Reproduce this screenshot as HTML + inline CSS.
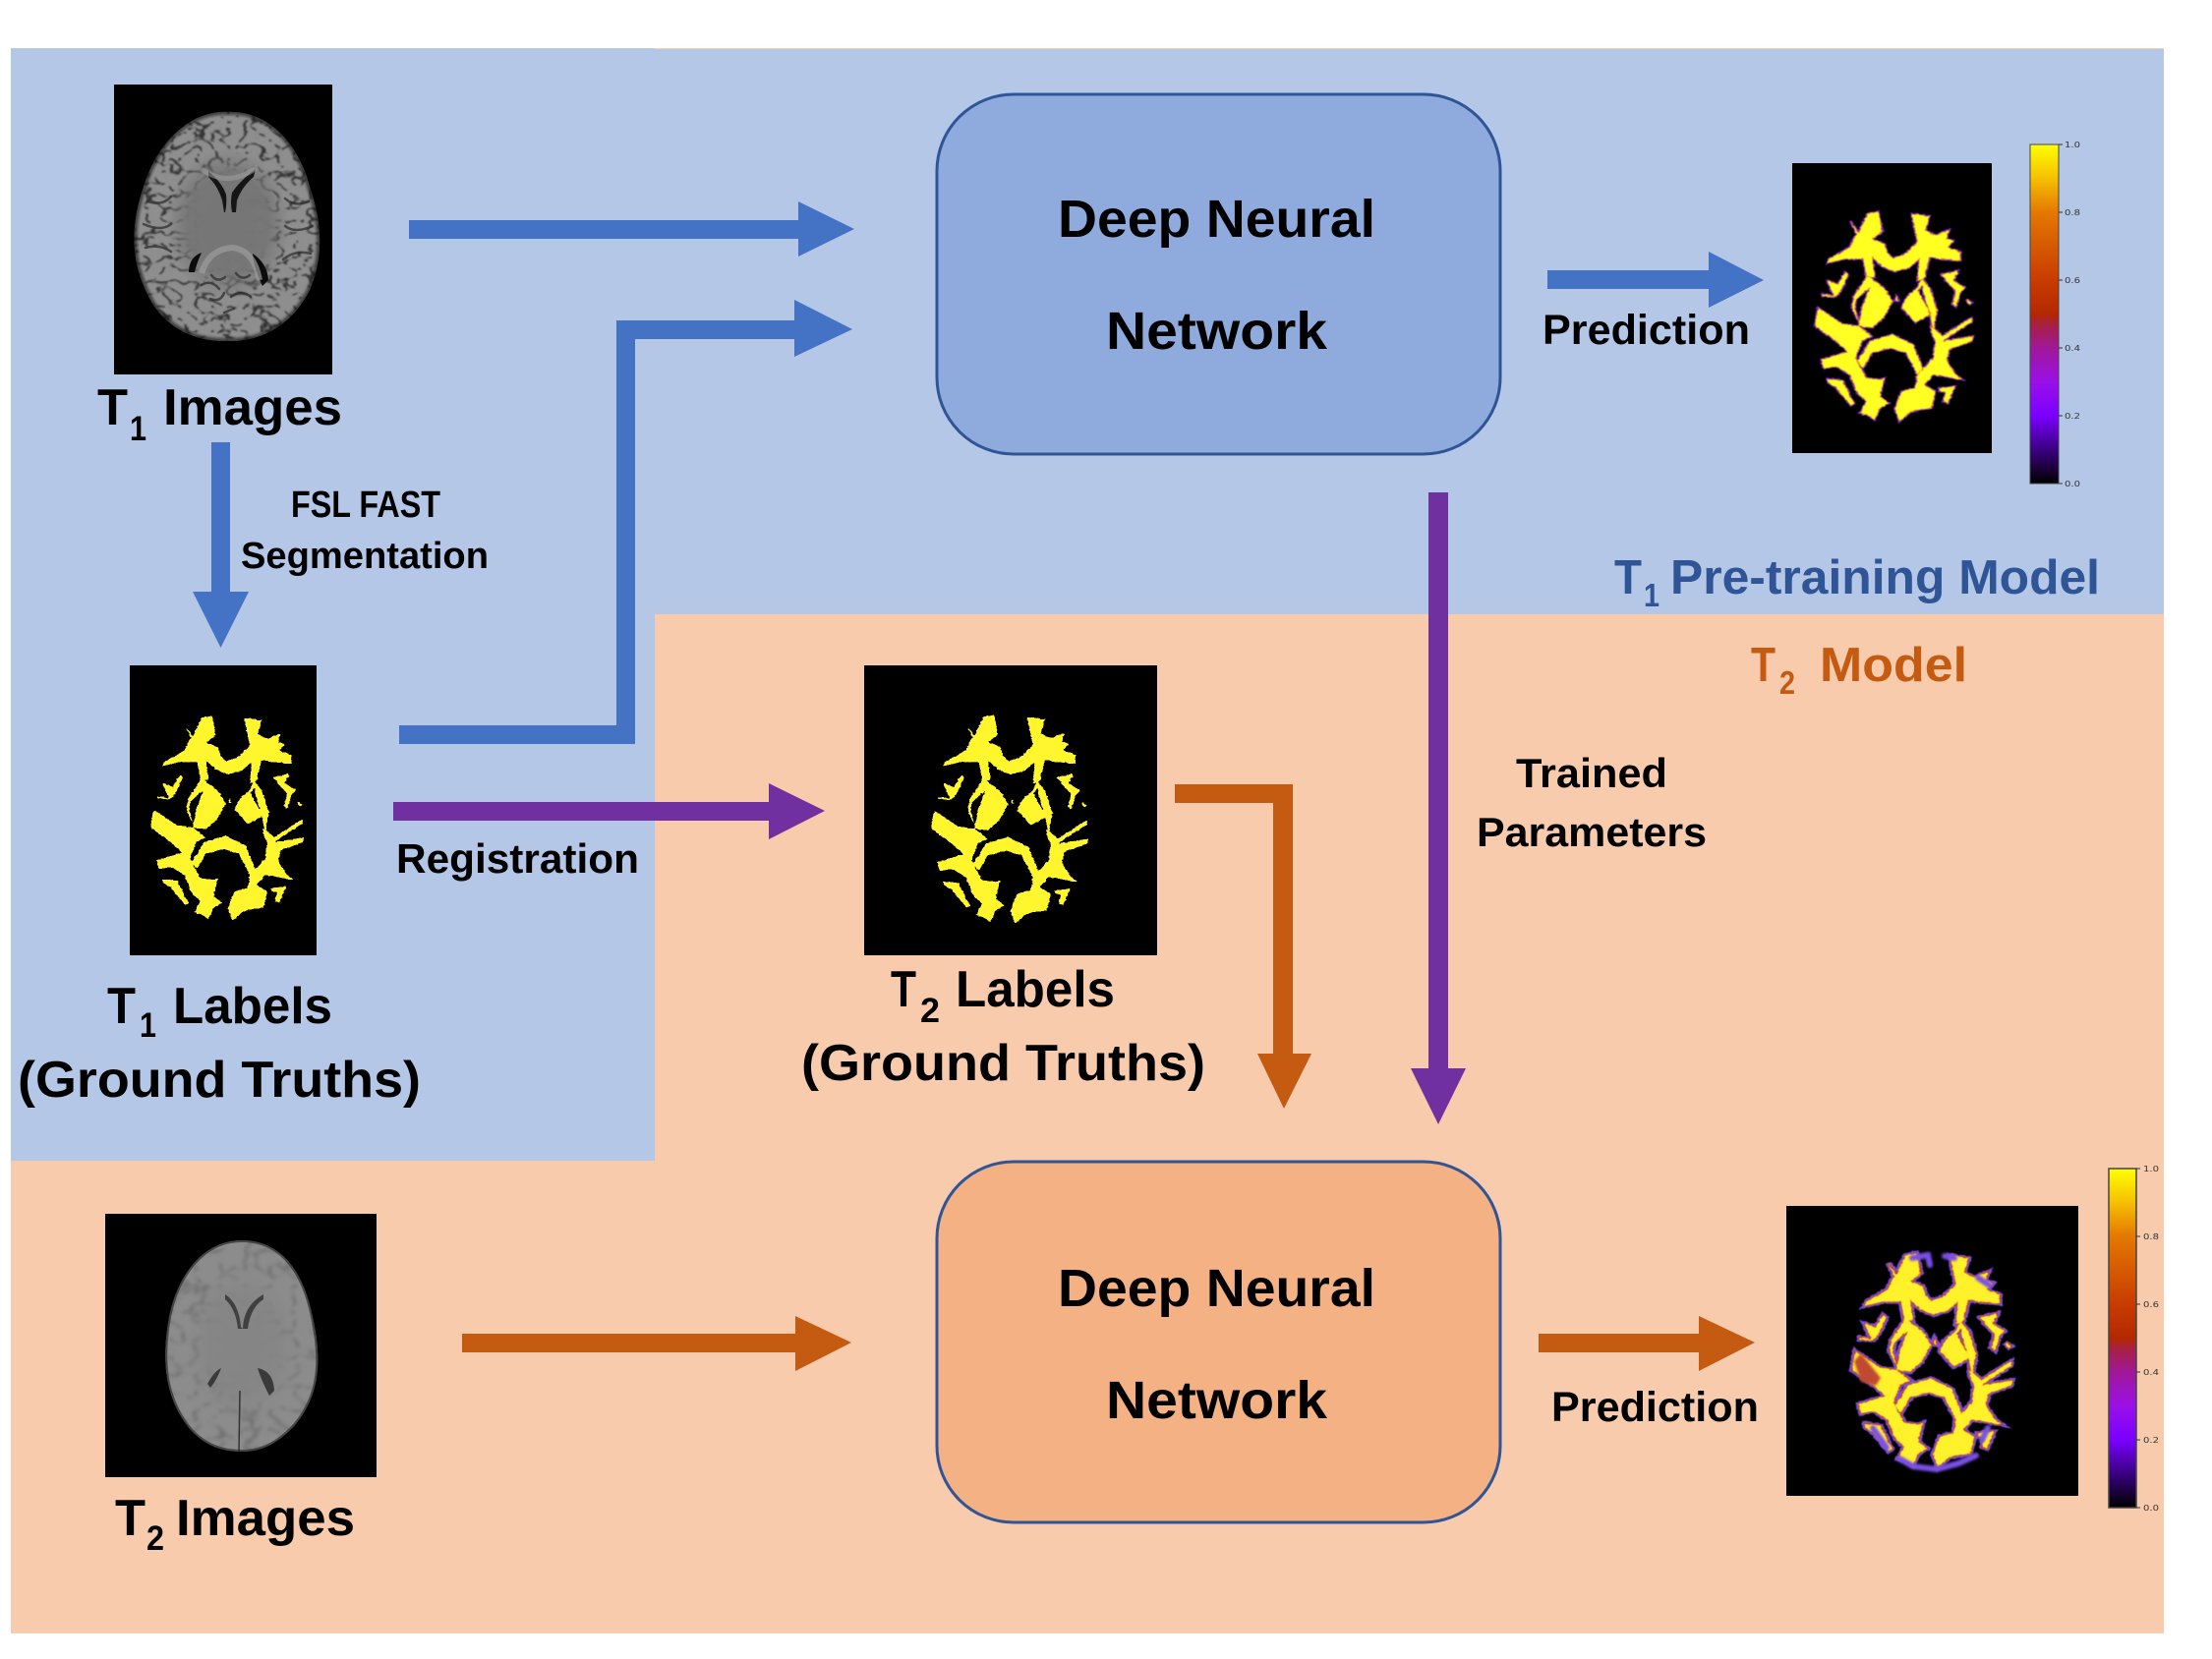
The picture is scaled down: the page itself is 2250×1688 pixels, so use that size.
<!DOCTYPE html>
<html><head><meta charset="utf-8"><style>html,body{margin:0;padding:0;background:#fff}svg{display:block}text{font-family:"Liberation Sans",sans-serif;font-weight:bold}</style></head>
<body>
<svg xmlns="http://www.w3.org/2000/svg" width="2250" height="1688" viewBox="0 0 2250 1688">
<defs>
<linearGradient id="cb" x1="0" y1="1" x2="0" y2="0">
<stop offset="0" stop-color="#000"/><stop offset=".1" stop-color="#3a0080"/><stop offset=".2" stop-color="#7a00ff"/><stop offset=".3" stop-color="#9a10e8"/><stop offset=".4" stop-color="#a01898"/><stop offset=".47" stop-color="#a82040"/><stop offset=".5" stop-color="#b42800"/><stop offset=".6" stop-color="#c83c00"/><stop offset=".8" stop-color="#e47800"/><stop offset=".9" stop-color="#f5c000"/><stop offset="1" stop-color="#ffff00"/>
</linearGradient>
<filter id="tex1" x="0" y="0" width="1" height="1" color-interpolation-filters="sRGB"><feTurbulence type="turbulence" baseFrequency=".06 .08" numOctaves="2" seed="7"/><feColorMatrix type="matrix" values="0 0 0 0 .2 0 0 0 0 .2 0 0 0 0 .2 -9 0 0 0 1.5"/><feGaussianBlur stdDeviation=".9"/></filter>
<filter id="tex2" x="0" y="0" width="1" height="1" color-interpolation-filters="sRGB"><feTurbulence type="turbulence" baseFrequency=".04 .055" numOctaves="2" seed="11"/><feColorMatrix type="matrix" values="0 0 0 0 .35 0 0 0 0 .35 0 0 0 0 .35 -4 0 0 0 .65"/><feGaussianBlur stdDeviation="1.5"/></filter>
<filter id="org" x="-5%" y="-5%" width="110%" height="110%" color-interpolation-filters="sRGB"><feTurbulence type="fractalNoise" baseFrequency=".13" numOctaves="2" seed="3" result="n"/><feDisplacementMap in="SourceGraphic" in2="n" scale="7" xChannelSelector="R" yChannelSelector="G" result="d"/><feGaussianBlur in="d" stdDeviation="1"/><feColorMatrix type="matrix" values="1 0 0 0 0 0 1 0 0 0 0 0 1 0 0 0 0 0 7 -2.8"/></filter>
<filter id="orgs" x="-5%" y="-5%" width="110%" height="110%" color-interpolation-filters="sRGB"><feTurbulence type="fractalNoise" baseFrequency=".13" numOctaves="2" seed="3" result="n"/><feDisplacementMap in="SourceGraphic" in2="n" scale="7" xChannelSelector="R" yChannelSelector="G" result="d"/><feGaussianBlur in="d" stdDeviation="1.2"/></filter>
<filter id="soft"><feGaussianBlur stdDeviation="1.3"/></filter>
<clipPath id="c1"><path d="M232 114C275 112 305 150 315 190C327 225 330 260 315 295C295 335 260 348 232 347C200 348 165 335 148 295C132 260 134 225 146 190C158 150 190 112 232 114Z"/></clipPath>
<clipPath id="c2"><path d="M246 1262C290 1262 310 1300 318 1340C328 1385 325 1420 300 1450C280 1472 262 1477 246 1477C225 1477 205 1470 190 1450C168 1420 164 1385 172 1340C180 1300 205 1262 246 1262Z"/></clipPath>
<radialGradient id="rg1" cx=".5" cy=".5" r=".5"><stop offset="0" stop-color="#767676"/><stop offset=".45" stop-color="#767676" stop-opacity=".96"/><stop offset=".68" stop-color="#767676" stop-opacity="0"/></radialGradient>
<radialGradient id="rg2" cx=".5" cy=".5" r=".5"><stop offset="0" stop-color="#858585"/><stop offset=".45" stop-color="#858585" stop-opacity=".9"/><stop offset=".8" stop-color="#858585" stop-opacity="0"/></radialGradient>
<g id="wm">
<path d="M197 232L215 265L235 210L258 203L268 262L245 285L272 300L278 325L290 343L318 330L345 295L332 210L372 218L362 260L385 275L415 258L408 285L425 290L412 310L440 325L440 350L395 345L372 340L360 405L345 410L350 345L325 372L295 383L270 370L245 340L250 400L232 400L225 345L185 345L145 358L150 345L195 310L210 270Z"/>
<path d="M240 400L270 430L290 470L270 520L245 550L215 545L222 490L240 430L210 465L206 490L218 540L200 490L205 455L235 395Z"/>
<path d="M355 405L372 430L388 500L380 560L372 510L355 425L345 440L375 510L340 535L310 490L320 460L345 430Z"/>
<path d="M118 545L125 490L180 540L215 545L245 575L222 590L208 640L232 700L262 705L272 700L262 755L282 775L262 790L250 825L235 810L218 805L232 770L212 745L195 690L165 665L138 672L132 645L190 622L170 595Z"/>
<path d="M212 650L240 590L290 570L335 600L360 680L345 690L320 625L285 610L245 625L225 670Z"/>
<path d="M375 545L400 575L465 520L465 532L400 590L468 575L465 590L415 615L410 650L430 690L445 705L380 690L360 720L385 740L375 790L330 800L305 830L295 790L310 740L340 730L345 690L380 640L385 590L375 560Z"/>
<path d="M135 450L160 455L145 410L170 420L185 385L192 392L180 430L165 458L135 456Z"/>
<path d="M398 392L435 380L425 410L450 432L440 445L430 488L422 480L430 440L415 420Z"/>
<path d="M146 702L180 708L205 778L198 782L165 730L146 712Z"/>
<path d="M392 730L428 725L412 775L402 770L408 742L394 740Z"/>
<path d="M298 455L305 472L295 470Z"/>
<path d="M452 465L466 475L460 480Z"/>
</g>
</defs>

<rect width="2250" height="1688" fill="#fff"/>
<rect x="11" y="49" width="2190" height="1613" fill="#f8cbad"/>
<path d="M11 49H666V50H2201V625H666V1181H11Z" fill="#b4c7e7"/>

<!-- T1 image -->
<rect x="116" y="86" width="222" height="295" fill="#000"/>
<g clip-path="url(#c1)">
<rect x="125" y="105" width="210" height="250" fill="#8e8e8e"/>
<rect x="125" y="105" width="210" height="250" filter="url(#tex1)"/>
<ellipse cx="232" cy="228" rx="92" ry="112" fill="url(#rg1)"/>
<g fill="none" stroke="#2a2a2a" stroke-width="2.500" stroke-linecap="round" opacity=".7">
<path d="M150 205q15 5 24 -5M146 228q18 8 28 0M148 252q14 -4 26 4M314 205q-14 6 -24 -3M318 230q-18 8 -28 0M316 258q-16 -4 -28 6"/>
<path d="M205 290q10 -6 18 4M214 304q10 4 14 -6M235 302q10 -8 20 0M228 318l10 -4M215 280q6 8 14 2M240 278q6 8 14 2"/>
</g>
<path d="M232 114C275 112 305 150 315 190C327 225 330 260 315 295C295 335 260 348 232 347C200 348 165 335 148 295C132 260 134 225 146 190C158 150 190 112 232 114Z" fill="none" stroke="#111" stroke-width="6" opacity=".6" filter="url(#soft)"/>
</g>
<path d="M212 174Q226 186 230 198Q231 208 229 216L236 216Q234 206 236 196Q244 184 260 172L258 180Q246 190 241 204L240 216L228 216L226 204Q222 190 212 180Z" fill="#151515"/>
<path d="M192 277Q192 262 205 257Q200 268 198 277Z" fill="#0c0c0c"/>
<path d="M257 258Q272 268 273 285L267 291Q258 272 257 258Z" fill="#0c0c0c"/>
<path d="M205 278Q212 254 236 252Q258 254 264 285" fill="none" stroke="#9c9c9c" stroke-width="6" opacity=".7"/>
<path d="M205 172Q232 192 262 170" fill="none" stroke="#a0a0a0" stroke-width="5" opacity=".55"/>

<!-- arrows blue -->
<path d="M416 224H812V205L869 233L812 261V243H416Z" fill="#4472c4"/>
<path d="M406 738H627V326H808V305L867 335L808 363V345H646V757H406Z" fill="#4472c4"/>
<path d="M215 450H234V602H253L224.500 659L196 602H215Z" fill="#4472c4"/>
<path d="M1574 275H1738V256L1794 285L1738 313V294H1574Z" fill="#4472c4"/>
<!-- purple -->
<path d="M400 816H782V797L839 825L782 854V835H400Z" fill="#7030a0"/>
<path d="M1453 501H1473V1087H1491L1463 1144L1435 1087H1453Z" fill="#7030a0"/>
<!-- orange -->
<path d="M1195 798H1315V1072H1334L1306 1128L1279 1072H1295V817H1195Z" fill="#c55a11"/>
<path d="M470 1357H809V1339L866 1366L809 1395V1376H470Z" fill="#c55a11"/>
<path d="M1565 1357H1728V1339L1785 1366L1728 1395V1376H1565Z" fill="#c55a11"/>

<!-- DNN boxes -->
<rect x="953" y="96" width="573" height="366" rx="78" ry="78" fill="#8faadc" stroke="#2f5597" stroke-width="3"/>
<rect x="953" y="1182" width="573" height="367" rx="78" ry="78" fill="#f4b183" stroke="#2f5597" stroke-width="3"/>
<text x="1076" y="241" font-size="54" textLength="323" lengthAdjust="spacingAndGlyphs">Deep Neural</text>
<text x="1125" y="355" font-size="54" textLength="225" lengthAdjust="spacingAndGlyphs">Network</text>
<text x="1076" y="1329" font-size="54" textLength="323" lengthAdjust="spacingAndGlyphs">Deep Neural</text>
<text x="1125" y="1443" font-size="54" textLength="225" lengthAdjust="spacingAndGlyphs">Network</text>

<!-- T1 labels image -->
<rect x="132" y="677" width="190" height="295" fill="#000"/>
<use href="#wm" fill="#fff62e" filter="url(#org)" transform="matrix(.4457 0 0 .3333 100.400 660.300)"/>
<!-- T2 labels image -->
<rect x="879" y="677" width="298" height="295" fill="#000"/>
<use href="#wm" fill="#fff62e" filter="url(#org)" transform="matrix(.457 0 0 .3397 893 658)"/>

<!-- T1 prediction -->
<rect x="1823" y="166" width="203" height="295" fill="#000"/>
<use href="#wm" fill="#7020e0" stroke="#7020e0" stroke-width="6" filter="url(#orgs)" transform="matrix(.46 0 0 .3413 1791.700 145.700)"/>
<use href="#wm" fill="#ff2" stroke="#d87000" stroke-width="1.500" filter="url(#orgs)" transform="matrix(.46 0 0 .3413 1791.700 145.700)"/>
<!-- T2 prediction -->
<rect x="1817" y="1227" width="297" height="295" fill="#000"/>
<use href="#wm" fill="#7a50e8" stroke="#7a50e8" stroke-width="13" filter="url(#orgs)" transform="matrix(.4657 0 0 .3477 1829 1204.400)"/>
<use href="#wm" fill="#c03820" stroke="#c03820" stroke-width="5" filter="url(#orgs)" transform="matrix(.4657 0 0 .3477 1829 1204.400)"/>
<use href="#wm" fill="#fff22a" filter="url(#orgs)" transform="matrix(.4657 0 0 .3477 1829 1204.400)"/>
<g fill="none" stroke="#7a50e8" stroke-width="6" stroke-linecap="round" filter="url(#soft)">
<path d="M1945 1280l16 -3l2 10M1978 1278l10 2"/>
<path d="M1905 1453l14 20M1932 1484l14 8l24 3l22 -6l18 -8"/>
<path d="M2012 1300l12 8M2016 1465l6 -12"/>
</g>
<path d="M1886 1385L1893 1377L1913 1402L1908 1410L1893 1406Z" fill="#c04830" filter="url(#soft)"/>

<!-- colorbars -->
<rect x="2065" y="147" width="29" height="345" fill="url(#cb)" stroke="#444" stroke-width="1"/>
<rect x="2145" y="1189" width="28" height="345" fill="url(#cb)" stroke="#444" stroke-width="1.500"/>
<g stroke="#333" stroke-width="1">
<path d="M2094 147h4M2094 216h4M2094 285h4M2094 354h4M2094 423h4M2094 492h4"/>
<path d="M2173 1189h4M2173 1258h4M2173 1327h4M2173 1396h4M2173 1465h4M2173 1534h4"/>
</g>
<g font-size="8" fill="#333">
<text x="2100" y="150" style="font-family:'DejaVu Sans',sans-serif;font-weight:normal" textLength="16" lengthAdjust="spacingAndGlyphs">1.0</text>
<text x="2100" y="219" style="font-family:'DejaVu Sans',sans-serif;font-weight:normal" textLength="16" lengthAdjust="spacingAndGlyphs">0.8</text>
<text x="2100" y="288" style="font-family:'DejaVu Sans',sans-serif;font-weight:normal" textLength="16" lengthAdjust="spacingAndGlyphs">0.6</text>
<text x="2100" y="357" style="font-family:'DejaVu Sans',sans-serif;font-weight:normal" textLength="16" lengthAdjust="spacingAndGlyphs">0.4</text>
<text x="2100" y="426" style="font-family:'DejaVu Sans',sans-serif;font-weight:normal" textLength="16" lengthAdjust="spacingAndGlyphs">0.2</text>
<text x="2100" y="495" style="font-family:'DejaVu Sans',sans-serif;font-weight:normal" textLength="16" lengthAdjust="spacingAndGlyphs">0.0</text>
<text x="2180" y="1192" style="font-family:'DejaVu Sans',sans-serif;font-weight:normal" textLength="16" lengthAdjust="spacingAndGlyphs">1.0</text>
<text x="2180" y="1261" style="font-family:'DejaVu Sans',sans-serif;font-weight:normal" textLength="16" lengthAdjust="spacingAndGlyphs">0.8</text>
<text x="2180" y="1330" style="font-family:'DejaVu Sans',sans-serif;font-weight:normal" textLength="16" lengthAdjust="spacingAndGlyphs">0.6</text>
<text x="2180" y="1399" style="font-family:'DejaVu Sans',sans-serif;font-weight:normal" textLength="16" lengthAdjust="spacingAndGlyphs">0.4</text>
<text x="2180" y="1468" style="font-family:'DejaVu Sans',sans-serif;font-weight:normal" textLength="16" lengthAdjust="spacingAndGlyphs">0.2</text>
<text x="2180" y="1537" style="font-family:'DejaVu Sans',sans-serif;font-weight:normal" textLength="16" lengthAdjust="spacingAndGlyphs">0.0</text>
</g>

<!-- T2 image -->
<rect x="107" y="1235" width="276" height="268" fill="#000"/>
<g clip-path="url(#c2)">
<rect x="160" y="1255" width="175" height="230" fill="#8c8c8c"/>
<rect x="160" y="1255" width="175" height="230" filter="url(#tex2)"/>
<ellipse cx="246" cy="1369" rx="72" ry="100" fill="url(#rg2)"/>
<path d="M244 1415L243 1477" stroke="#333" stroke-width="1.500"/>
<path d="M246 1262C290 1262 310 1300 318 1340C328 1385 325 1420 300 1450C280 1472 262 1477 246 1477C225 1477 205 1470 190 1450C168 1420 164 1385 172 1340C180 1300 205 1262 246 1262Z" fill="none" stroke="#2a2a2a" stroke-width="4" opacity=".7"/>
</g>
<path d="M229 1317Q243 1326 245 1350L247 1352Q248 1328 268 1317L268 1322Q255 1330 252 1352L242 1352Q240 1332 229 1322Z" fill="#404040"/>
<path d="M211 1408Q218 1395 225 1392Q220 1405 214 1412Z" fill="#3a3a3a"/>
<path d="M262 1392Q278 1395 279 1415L274 1420Q266 1405 262 1392Z" fill="#3a3a3a"/>

<!-- labels -->
<text x="99" y="432" font-size="52" textLength="31" lengthAdjust="spacingAndGlyphs">T</text>
<text x="132" y="448" font-size="35" textLength="17" lengthAdjust="spacingAndGlyphs">1</text>
<text x="166" y="432" font-size="52" textLength="182" lengthAdjust="spacingAndGlyphs">Images</text>

<text x="296" y="526" font-size="38" textLength="152" lengthAdjust="spacingAndGlyphs">FSL FAST</text>
<text x="245" y="578" font-size="38" textLength="252" lengthAdjust="spacingAndGlyphs">Segmentation</text>

<text x="109" y="1041" font-size="52" textLength="29" lengthAdjust="spacingAndGlyphs">T</text>
<text x="142" y="1055" font-size="35" textLength="17" lengthAdjust="spacingAndGlyphs">1</text>
<text x="176" y="1041" font-size="52" textLength="162" lengthAdjust="spacingAndGlyphs">Labels</text>
<text x="18" y="1116" font-size="52" textLength="410" lengthAdjust="spacingAndGlyphs">(Ground Truths)</text>

<text x="403" y="888" font-size="42" textLength="247" lengthAdjust="spacingAndGlyphs">Registration</text>

<text x="906" y="1024" font-size="52" textLength="26" lengthAdjust="spacingAndGlyphs">T</text>
<text x="936" y="1040" font-size="35" textLength="20" lengthAdjust="spacingAndGlyphs">2</text>
<text x="972" y="1024" font-size="52" textLength="162" lengthAdjust="spacingAndGlyphs">Labels</text>
<text x="815" y="1099" font-size="52" textLength="411" lengthAdjust="spacingAndGlyphs">(Ground Truths)</text>

<text x="1542" y="801" font-size="42" textLength="154" lengthAdjust="spacingAndGlyphs">Trained</text>
<text x="1502" y="861" font-size="42" textLength="234" lengthAdjust="spacingAndGlyphs">Parameters</text>

<text x="1569" y="350" font-size="43" textLength="211" lengthAdjust="spacingAndGlyphs">Prediction</text>
<text x="1578" y="1446" font-size="43" textLength="211" lengthAdjust="spacingAndGlyphs">Prediction</text>

<text x="1642" y="604" font-size="49" fill="#2f5597" textLength="28" lengthAdjust="spacingAndGlyphs">T</text>
<text x="1672" y="617" font-size="33" fill="#2f5597" textLength="16" lengthAdjust="spacingAndGlyphs">1</text>
<text x="1699" y="604" font-size="49" fill="#2f5597" textLength="437" lengthAdjust="spacingAndGlyphs">Pre-training Model</text>

<text x="1781" y="693" font-size="49" fill="#c55a11" textLength="25" lengthAdjust="spacingAndGlyphs">T</text>
<text x="1810" y="706" font-size="33" fill="#c55a11" textLength="16" lengthAdjust="spacingAndGlyphs">2</text>
<text x="1851" y="693" font-size="49" fill="#c55a11" textLength="150" lengthAdjust="spacingAndGlyphs">Model</text>

<text x="117" y="1562" font-size="52" textLength="31" lengthAdjust="spacingAndGlyphs">T</text>
<text x="149" y="1577" font-size="35" textLength="18" lengthAdjust="spacingAndGlyphs">2</text>
<text x="179" y="1562" font-size="52" textLength="182" lengthAdjust="spacingAndGlyphs">Images</text>
</svg>
</body></html>
